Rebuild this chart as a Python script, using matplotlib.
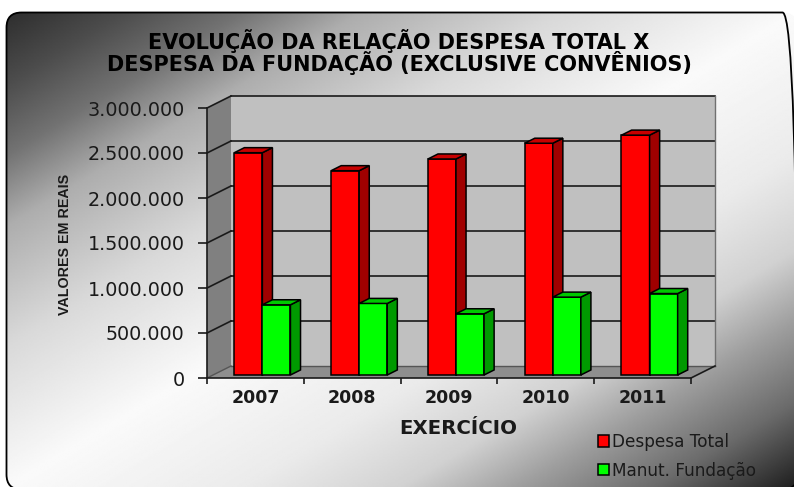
import numpy as np
import matplotlib
matplotlib.use('Agg')
import matplotlib.pyplot as plt
from matplotlib.patches import Polygon, FancyBboxPatch

# ---------------- data ----------------
years = ['2007', '2008', '2009', '2010', '2011']
despesa_total = [2470000, 2270000, 2400000, 2575000, 2665000]
manut_fundacao = [780000, 795000, 680000, 865000, 905000]
y_ticks = [0, 500000, 1000000, 1500000, 2000000, 2500000, 3000000]
y_tick_labels = ['0', '500.000', '1.000.000', '1.500.000', '2.000.000', '2.500.000', '3.000.000']
series_names = ['Despesa Total', 'Manut. Fundação']
title = 'EVOLUÇÃO DA RELAÇÃO DESPESA TOTAL X\nDESPESA DA FUNDAÇÃO (EXCLUSIVE CONVÊNIOS)'
x_title = 'EXERCÍCIO'
y_title = 'VALORES EM REAIS'

plt.rcParams['font.family'] = ['DejaVu Sans']
TXT = '#1a1a1a'

W, H = 794, 487
fig = plt.figure(figsize=(W / 100, H / 100), dpi=100)

# ---------------- background (rounded frame with diagonal gradient) ----------------
bg = fig.add_axes([0, 0, 1, 1])
bg.set_xlim(0, W)
bg.set_ylim(0, H)
bg.set_autoscale_on(False)
bg.axis('off')
xx, yy = np.meshgrid(np.linspace(0, W, 500), np.linspace(0, H, 320))  # yy: image rows from top
t = (xx - 6) / 790 + (yy - 12) / 476
tp = [0, 0.15, 0.3, 0.45, 0.7, 1.0, 1.3, 1.5, 1.65, 1.82, 2.0]
vp = [0.18, 0.3, 0.45, 0.68, 0.85, 0.98, 0.92, 0.82, 0.62, 0.42, 0.12]
g = np.interp(t, tp, vp)
im = bg.imshow(g, extent=(0, W, 0, H), origin='upper', cmap='gray', vmin=0, vmax=1,
               aspect='auto', interpolation='bilinear')
frame = FancyBboxPatch((6.5, H - 489.5), 791, 489.5 - 12.5,
                       boxstyle='round,pad=0,rounding_size=15',
                       facecolor='none', edgecolor='black', lw=1.3)
bg.add_patch(frame)
im.set_clip_path(frame)

# ---------------- plot area ----------------
L, R, T, B = 207, 691, 108, 378
ax = fig.add_axes([L / W, (H - B) / H, (R - L) / W, (B - T) / H])
n = len(years)
x = np.arange(n)
ymax = y_ticks[-1]
ax.set_xlim(-0.5, n - 0.5)
ax.set_ylim(0, ymax)
ax.patch.set_alpha(0)

px_x = (R - L) / n
px_y = (B - T) / ymax
ddx = 24 / px_x          # depth of the 3D box in data units
ddy = 12 / px_y
x0, x1 = -0.5, n - 0.5

# walls and floor
ax.add_patch(Polygon([(x0 + ddx, ddy), (x1 + ddx, ddy), (x1 + ddx, ymax + ddy), (x0 + ddx, ymax + ddy)],
                     closed=True, facecolor='#c0c0c0', edgecolor='none', zorder=0.5, clip_on=False))
ax.add_patch(Polygon([(x0, 0), (x0 + ddx, ddy), (x0 + ddx, ymax + ddy), (x0, ymax)],
                     closed=True, facecolor='#808080', edgecolor='none', zorder=0.5, clip_on=False))
ax.add_patch(Polygon([(x0, 0), (x1, 0), (x1 + ddx, ddy), (x0 + ddx, ddy)],
                     closed=True, facecolor='#8e8e8e', edgecolor='none', zorder=0.5, clip_on=False))

for v in y_ticks[1:]:
    ax.plot([x0 + ddx, x1 + ddx], [v + ddy, v + ddy], color=TXT, lw=1.2, zorder=0.8, clip_on=False)
    ax.plot([x0, x0 + ddx], [v, v + ddy], color=TXT, lw=1.2, zorder=0.8, clip_on=False)
ax.plot([x0 + ddx, x1 + ddx], [ddy, ddy], color='#555555', lw=1.0, zorder=0.8, clip_on=False)
ax.plot([x0, x0 + ddx], [0, ddy], color='#555555', lw=1.0, zorder=0.8, clip_on=False)
ax.plot([x1 + ddx, x1 + ddx], [ddy, ymax + ddy], color='#707070', lw=1.0, zorder=0.8, clip_on=False)
ax.plot([x1, x1 + ddx], [0, ddy], color=TXT, lw=1.2, zorder=0.8, clip_on=False)

# ---------------- 3D bars ----------------
w = 0.29
fb, bd = 0.25, 0.42
ox, oy = fb * ddx, fb * ddy
sdx, sdy = bd * ddx, bd * ddy
styles = [
    (despesa_total, '#ff0000', '#a00000', '#c80000', -w, 3.0),
    (manut_fundacao, '#00ff00', '#009a00', '#00c800', 0.0, 3.4),
]
handles = []
for (vals, fc, sc, tc, off, z), name in zip(styles, series_names):
    left = x + off + 0.01 + ox
    bc = ax.bar(left, vals, width=w, bottom=oy, align='edge', color=fc, edgecolor='black',
                linewidth=1.1, label=name, zorder=z, clip_on=False)
    handles.append(bc)
    for xl, v in zip(left, vals):
        xr = xl + w
        top = oy + v
        ax.add_patch(Polygon([(xr, oy), (xr + sdx, oy + sdy), (xr + sdx, top + sdy), (xr, top)],
                             closed=True, facecolor=sc, edgecolor='black', lw=1.1,
                             zorder=z + 0.1, clip_on=False))
        ax.add_patch(Polygon([(xl, top), (xr, top), (xr + sdx, top + sdy), (xl + sdx, top + sdy)],
                             closed=True, facecolor=tc, edgecolor='black', lw=1.1,
                             zorder=z + 0.1, clip_on=False))

# ---------------- axes ----------------
for s in ['top', 'right']:
    ax.spines[s].set_visible(False)
for s in ['left', 'bottom']:
    ax.spines[s].set_color(TXT)
    ax.spines[s].set_linewidth(1.2)
    ax.spines[s].set_zorder(5)

ax.set_yticks(y_ticks, y_tick_labels)
ax.tick_params(axis='y', direction='out', length=6.5, width=1.2, pad=9.5,
               labelsize=13.8, colors=TXT)
ax.set_xticks(np.arange(n + 1) - 0.5)
ax.tick_params(axis='x', which='major', direction='out', length=4, width=1.2,
               labelbottom=False, colors=TXT)
ax.set_xticks(x, years, minor=True)
ax.tick_params(axis='x', which='minor', length=0, pad=8, labelsize=12.5, colors=TXT)
for lab in ax.get_xticklabels(minor=True):
    lab.set_fontweight('bold')

ax.set_ylabel(y_title, fontsize=10.3, fontweight='bold', color=TXT,
              family=['Liberation Sans', 'DejaVu Sans'])
ax.yaxis.set_label_coords(-0.279, 0.496)

fig.text(458 / W, 1 - 429 / H, x_title, ha='center', va='center',
         fontsize=14.2, fontweight='bold', color=TXT)
fig.text(399 / W, 1 - 52 / H, title, ha='center', va='center', fontsize=15,
         fontweight='bold', color='black', linespacing=0.88)

ax.legend(handles=handles, loc='upper left', bbox_to_anchor=(598 / W, 1 - 433 / H),
          bbox_transform=fig.transFigure, frameon=False, fontsize=12.2,
          handlelength=0.65, handleheight=0.65, handletextpad=0.2, labelspacing=0.62,
          borderpad=0, borderaxespad=0, labelcolor=TXT)

fig.savefig('out.png', dpi=100)
